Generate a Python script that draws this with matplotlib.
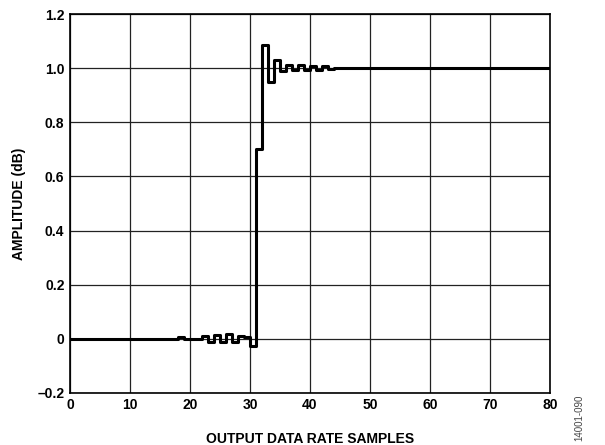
import numpy as np
import matplotlib
matplotlib.use("Agg")
import matplotlib.pyplot as plt

plt.rcParams['font.family'] = ['Liberation Sans', 'DejaVu Sans']

# step response, one value per output sample (held until next sample)
samples = np.arange(0, 81)
amplitude = np.zeros(81)
amplitude[18] = 0.005
amplitude[22:31] = [0.010, -0.010, 0.015, -0.012, 0.018, -0.012, 0.012, 0.006, -0.025]
amplitude[31:44] = [0.70, 1.085, 0.95, 1.03, 0.99, 1.01, 0.995, 1.01, 0.995, 1.008, 0.995, 1.008, 0.998]
amplitude[44:] = 1.0

x_ticks = [0, 10, 20, 30, 40, 50, 60, 70, 80]
y_ticks = [-0.2, 0, 0.2, 0.4, 0.6, 0.8, 1.0, 1.2]
y_labels = ["\u20130.2", "0", "0.2", "0.4", "0.6", "0.8", "1.0", "1.2"]

fig = plt.figure(figsize=(6.05, 4.45), dpi=100)
ax = fig.add_axes([0.1157, 0.117, 0.7933, 0.8515])

ax.step(samples, amplitude, where="post", color="black", lw=2.2, zorder=3)

ax.set_xlim(0, 80)
ax.set_ylim(-0.2, 1.2)
ax.set_xticks(x_ticks)
ax.set_yticks(y_ticks)
ax.set_yticklabels(y_labels)
ax.tick_params(length=0, labelsize=10, pad=4)
for lbl in ax.get_xticklabels() + ax.get_yticklabels():
    lbl.set_fontweight("bold")
ax.grid(True, color="#222222", lw=0.9)
for s in ax.spines.values():
    s.set_linewidth(1.2)
    s.set_color("black")

ax.set_xlabel("OUTPUT DATA RATE SAMPLES", fontsize=10, fontweight="bold", labelpad=14)
ax.set_ylabel("AMPLITUDE (dB)", fontsize=10, fontweight="bold", labelpad=8)

fig.text(0.958, 0.01, "14001-090", rotation=90, fontsize=7, color="#444444",
         ha="center", va="bottom")

fig.savefig("out.png", dpi=100)
